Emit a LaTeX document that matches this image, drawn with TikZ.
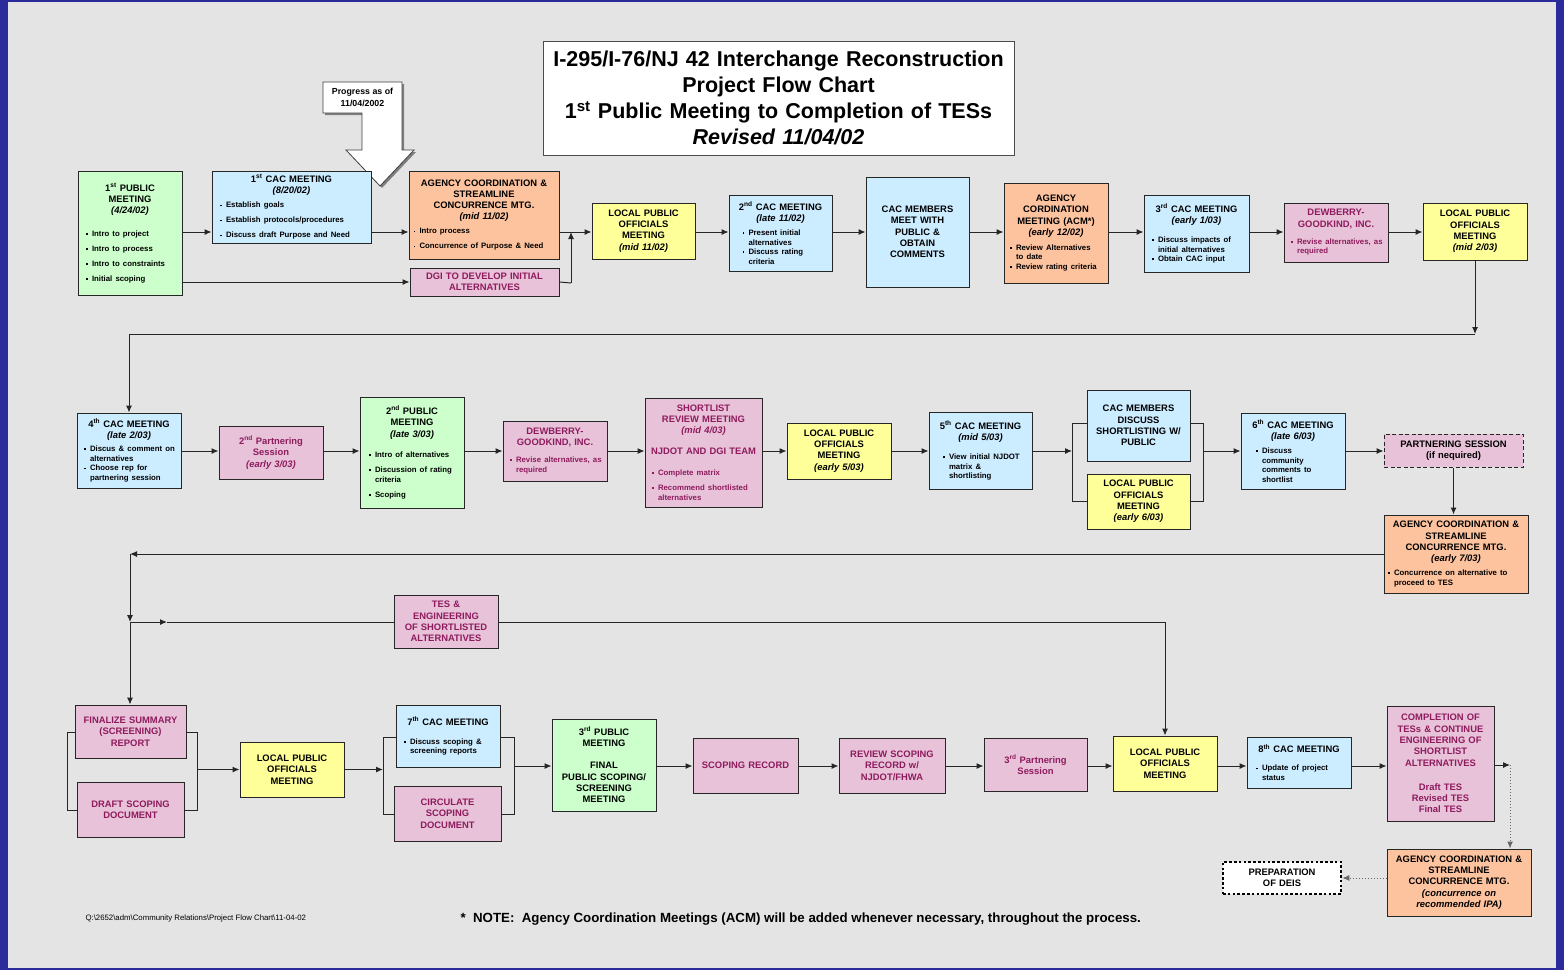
\documentclass[tikz,border=0pt]{standalone}
\usepackage{fontspec}
\setmainfont{Liberation Sans}
\usetikzlibrary{arrows.meta,shadows}

\setlength{\parindent}{0pt}

\definecolor{bgblue}{HTML}{2B2B9C}
\definecolor{paper}{HTML}{E4E4E4}
\definecolor{fgreen}{HTML}{CCFFCC}
\definecolor{fblue}{HTML}{CCECFF}
\definecolor{forange}{HTML}{FDC39F}
\definecolor{fyellow}{HTML}{FFFF99}
\definecolor{fpink}{HTML}{E8C2D8}
\definecolor{plum}{HTML}{8E1B5E}

\newlength\itmind
\newcommand\hd{\fontsize{9.4}{11.3}\selectfont\bfseries}
\newcommand\sm{\fontsize{7.8}{9.6}\selectfont\bfseries}
\newcommand\bul{\makebox[6pt][l]{\raisebox{1.6pt}{\rule{1.7pt}{1.7pt}}}}
\newcommand\itm[2][0pt]{\par\vspace{#1}{\sm\raggedright\leftskip=\itmind
  \rightskip=-8pt plus 1fil\hangindent=6pt\hangafter=1\noindent\bul#2\par}}
\newcommand\sups[1]{\textsuperscript{#1}}

\tikzset{
  sz/.style 2 args={minimum width=#1pt, minimum height=#2pt,
    /utils/exec={\pgfmathsetlengthmacro\boxtw{#1pt-11pt}}, text width=\boxtw},
  plain/.style={draw=black!85, line width=1pt, align=center, inner xsep=4pt,
    inner ysep=2pt, font=\hd},
  box/.style={plain, drop shadow={shadow xshift=1.3pt, shadow yshift=-1.3pt,
    fill=black!45, opacity=0.8}},
  greenbox/.style={box, fill=fgreen},
  bluebox/.style={box, fill=fblue},
  orangebox/.style={box, fill=forange},
  yellowbox/.style={box, fill=fyellow},
  pinkbox/.style={box, fill=fpink, text=plum},
  dashbox/.style={plain, fill=fpink, dash pattern=on 4pt off 2.5pt},
  dotbox/.style={plain, fill=white, draw=black, line width=2.6pt,
    dash pattern=on 2.6pt off 2.2pt},
  titlebox/.style={box, fill=white, draw=black!70},
  callout/.style={fill=white, draw=black!75, line width=0.8pt,
    drop shadow={shadow xshift=2pt, shadow yshift=-2pt, fill=black!55, opacity=0.9}},
  arr/.style={draw=black!85, line width=1pt, -{Latex[length=7pt,width=6pt]}},
  link/.style={draw=black!85, line width=1pt},
  dots/.style={draw=black!60, line width=1pt, dotted, -{Latex[length=7pt,width=6pt]}},
}

\begin{document}
\begin{tikzpicture}[x=1pt,y=-1pt]
    \fill[bgblue] (0,0) rectangle (1564,970);
    \fill[paper] (8,2) rectangle (1556,968);
    \useasboundingbox (0,0) rectangle (1564,970);

    \coordinate (R1) at (0,232);
    \coordinate (R2) at (0,451);
    \coordinate (R3) at (0,766);
    \coordinate (J1) at (1475,334);
    \coordinate (J2) at (130,554);
    \coordinate (J3) at (130,622);
    \coordinate (J4) at (167,622);
    \coordinate (J5) at (1510,765);
    \coordinate (J6) at (571,283);

    \coordinate (B1) at (1072,423);
    \coordinate (B2) at (1072,501);
    \coordinate (B3) at (1203,423);
    \coordinate (B4) at (1203,501);
    \coordinate (B5) at (67,732);
    \coordinate (B6) at (67,810);
    \coordinate (B7) at (197,732);
    \coordinate (B8) at (197,810);
    \coordinate (B9) at (383,737);
    \coordinate (B10) at (383,814);
    \coordinate (B11) at (514,737);
    \coordinate (B12) at (514,814);

    \node[titlebox, sz={471}{114}, font=\fontsize{21.5}{26}\selectfont\bfseries] (T0) at (778.5,98)
      {I-295/I-76/NJ 42 Interchange Reconstruction\\Project Flow Chart\\1\sups{st} Public Meeting to Completion of TESs\\\textit{Revised 11/04/02}};

    \filldraw[callout] (323,82) -- (402,82) -- (402,150) -- (414,150) -- (380,186) -- (346,150)
      -- (362,150) -- (362,113) -- (323,113) -- cycle;
    \node[font=\fontsize{8.8}{11.5}\selectfont\bfseries, align=center] (G1) at (362.5,97.5) {Progress as of\\11/04/2002};

    \node[greenbox, sz={104}{124}] (P1) at (130,233) {1\sups{st} PUBLIC\\MEETING\\\textit{(4/24/02)}\itmind=2.5pt
      \itm[13pt]{Intro to project}\itm[5.4pt]{Intro to process}\itm[5.4pt]{Intro to constraints}\itm[5.4pt]{Initial scoping}};
    \node[bluebox, sz={159}{72}] (C1) at (291.5,207) {1\sups{st} CAC MEETING\\\textit{(8/20/02)}\itmind=2.5pt
      \itm[4.4pt]{Establish goals}\itm[5.4pt]{Establish protocols/procedures}\itm[5.4pt]{Discuss draft Purpose and Need}};
    \node[orangebox, sz={150}{88}] (A1) at (484,215) {AGENCY COORDINATION \&\\STREAMLINE\\CONCURRENCE MTG.\\\textit{(mid 11/02)}\itmind=-1pt
      \itm[4.4pt]{Intro process}\itm[5.4pt]{Concurrence of Purpose \& Need}};
    \node[pinkbox, sz={149}{28}] (D1) at (484.5,282) {DGI TO DEVELOP INITIAL\\ALTERNATIVES};
    \node[yellowbox, sz={103}{56}] (L1) at (643.5,231) {LOCAL PUBLIC\\OFFICIALS\\MEETING\\\textit{(mid 11/02)}};
    \node[bluebox, sz={103}{76}] (C2) at (780.5,233) {2\sups{nd} CAC MEETING\\\textit{(late 11/02)}\itmind=8pt
      \itm[4.4pt]{Present initial\newline alternatives}\itm{Discuss rating\newline criteria}};
    \node[bluebox, sz={103}{110}] (CM1) at (917.5,232) {CAC MEMBERS\\MEET WITH\\PUBLIC \&\\OBTAIN\\COMMENTS};
    \node[orangebox, sz={104}{100}] (A2) at (1056,233) {AGENCY\\CORDINATION\\MEETING (ACM*)\\\textit{(early 12/02)}\itmind=0.5pt
      \itm[5.4pt]{Review Alternatives\newline to date}\itm{Review rating criteria}};
    \node[bluebox, sz={105}{77}] (C3) at (1196.5,233.5) {3\sups{rd} CAC MEETING\\\textit{(early 1/03)}\itmind=2.5pt
      \itm[9.4pt]{Discuss impacts of\newline initial alternatives}\itm{Obtain CAC input}};
    \node[pinkbox, sz={104}{59}] (D2) at (1336,232.5) {DEWBERRY-\\GOODKIND, INC.\itmind=1.5pt
      \itm[7.4pt]{Revise alternatives, as\newline required}};
    \node[yellowbox, sz={104}{57}] (L2) at (1475,231.5) {LOCAL PUBLIC\\OFFICIALS\\MEETING\\\textit{(mid 2/03)}};

    \node[bluebox, sz={104}{75}] (C4) at (129,450.5) {4\sups{th} CAC MEETING\\\textit{(late 2/03)}\itmind=1.5pt
      \itm[3.4pt]{Discus \& comment on\newline alternatives}\itm{Choose rep for\newline partnering session}};
    \node[pinkbox, sz={104}{53}] (S2) at (271,452.5) {2\sups{nd} Partnering\\Session\\\textit{(early 3/03)}};
    \node[greenbox, sz={104}{111}] (P2) at (412,452.5) {2\sups{nd} PUBLIC\\MEETING\\\textit{(late 3/03)}\itmind=3.5pt
      \itm[11pt]{Intro of alternatives}\itm[5.4pt]{Discussion of rating\newline criteria}\itm[5.4pt]{Scoping}};
    \node[pinkbox, sz={104}{60}] (D3) at (555,451) {DEWBERRY-\\GOODKIND, INC.\itmind=1.5pt
      \itm[7.4pt]{Revise alternatives, as\newline required}};
    \node[pinkbox, sz={117}{109}] (S1) at (703.5,452.5) {SHORTLIST\\REVIEW MEETING\\\textit{(mid 4/03)}\par\vspace{9.7pt}
      NJDOT AND DGI TEAM\itmind=1.5pt\itm[11pt]{Complete matrix}\itm[5.4pt]{Recommend shortlisted\newline alternatives}};
    \node[yellowbox, sz={104}{56}] (L3) at (839,451) {LOCAL PUBLIC\\OFFICIALS\\MEETING\\\textit{(early 5/03)}};
    \node[bluebox, sz={103}{77}] (C5) at (980.5,450.5) {5\sups{th} CAC MEETING\\\textit{(mid 5/03)}\itmind=8.5pt
      \itm[9.4pt]{View initial NJDOT\newline matrix \&\newline shortlisting}};
    \node[bluebox, sz={103}{71}] (CM2) at (1138.5,425.5) {CAC MEMBERS\\DISCUSS\\SHORTLISTING W/\\PUBLIC};
    \node[yellowbox, sz={103}{55}] (L4) at (1138.5,501.5) {LOCAL PUBLIC\\OFFICIALS\\MEETING\\\textit{(early 6/03)}};
    \node[bluebox, sz={104}{76}] (C6) at (1293,451) {6\sups{th} CAC MEETING\\\textit{(late 6/03)}\itmind=9.5pt
      \itm[4.4pt]{Discuss\newline community\newline comments to\newline shortlist}};
    \node[dashbox, sz={139}{33}] (S3) at (1453.5,450.5) {PARTNERING SESSION\\(if nequired)};
    \node[orangebox, sz={144}{78}] (A3) at (1456,554) {AGENCY COORDINATION \&\\STREAMLINE\\CONCURRENCE MTG.\\\textit{(early 7/03)}\itmind=-1.5pt
      \itm[4.4pt]{Concurrence on alternative to\newline proceed to TES}};

    \node[pinkbox, sz={104}{53}] (T1) at (446,621.5) {TES \&\\ENGINEERING\\OF SHORTLISTED\\ALTERNATIVES};
    \node[pinkbox, sz={111}{53}] (F1) at (130.5,731.5) {FINALIZE SUMMARY\\(SCREENING)\\REPORT};
    \node[pinkbox, sz={107}{55}] (F2) at (130.5,809.5) {DRAFT SCOPING\\DOCUMENT};
    \node[yellowbox, sz={104}{55}] (L5) at (292,769.5) {LOCAL PUBLIC\\OFFICIALS\\MEETING};
    \node[bluebox, sz={104}{62}] (C7) at (448,736) {7\sups{th} CAC MEETING\itmind=2.5pt
      \itm[9.4pt]{Discuss scoping \&\newline screening reports}};
    \node[pinkbox, sz={107}{55}] (F3) at (447.5,813.5) {CIRCULATE\\SCOPING\\DOCUMENT};
    \node[greenbox, sz={104}{92}] (P3) at (604,765) {3\sups{rd} PUBLIC\\MEETING\par\vspace{10.7pt}FINAL\\PUBLIC SCOPING/\\SCREENING\\MEETING};
    \node[pinkbox, sz={105}{55}] (F4) at (745.5,765.5) {SCOPING RECORD};
    \node[pinkbox, sz={106}{55}] (F5) at (892,765.5) {REVIEW SCOPING\\RECORD w/\\NJDOT/FHWA};
    \node[pinkbox, sz={103}{53}] (S4) at (1035.5,764.5) {3\sups{rd} Partnering\\Session};
    \node[yellowbox, sz={104}{55}] (L6) at (1165,763.5) {LOCAL PUBLIC\\OFFICIALS\\MEETING};
    \node[bluebox, sz={104}{51}] (C8) at (1299,762.5) {8\sups{th} CAC MEETING\itmind=3.5pt
      \itm[8.4pt]{Update of project\newline status}};
    \node[pinkbox, sz={107}{115}] (T2) at (1440.5,763.5) {COMPLETION OF\\TESs \& CONTINUE\\ENGINEERING OF\\SHORTLIST\\ALTERNATIVES\par\vspace{12.7pt}Draft TES\\Revised TES\\Final TES};
    \node[orangebox, sz={144}{67}] (A4) at (1459,882.5) {AGENCY COORDINATION \&\\STREAMLINE\\CONCURRENCE MTG.\\\textit{(concurrence on}\\\textit{recommended IPA)}};
    \node[dotbox, sz={118}{32}] (E1) at (1282,878) {PREPARATION\\OF DEIS};

    \node[anchor=west, font=\fontsize{7.8}{8}\selectfont] (N1) at (82,918)
      {Q:\textbackslash 2652\textbackslash adm\textbackslash Community Relations\textbackslash Project Flow Chart\textbackslash 11-04-02};
    \node[anchor=west, font=\fontsize{13.3}{15}\selectfont\bfseries] (N2) at (457,919)
      {*\ \ NOTE:\ \ Agency Coordination Meetings (ACM) will be added whenever necessary, throughout the process.};

    \draw[arr] (P1.east |- R1) -- (C1.west |- R1);
    \draw[arr] (C1.east |- R1) -- (A1.west |- R1);
    \draw[arr] (A1.east |- R1) -- (L1.west |- R1);
    \draw[arr] (L1.east |- R1) -- (C2.west |- R1);
    \draw[arr] (C2.east |- R1) -- (CM1.west |- R1);
    \draw[arr] (CM1.east |- R1) -- (A2.west |- R1);
    \draw[arr] (A2.east |- R1) -- (C3.west |- R1);
    \draw[arr] (C3.east |- R1) -- (D2.west |- R1);
    \draw[arr] (D2.east |- R1) -- (L2.west |- R1);
    \draw[arr] (P1.east |- D1.west) -- (D1.west);
    \draw[link] (D1.east) -- (J6);
    \draw[arr] (J6) -- (J6 |- R1);
    \draw[arr] (L2.south) -- (J1);
    \draw[arr] (J1) -| (C4.north);

    \draw[arr] (C4.east |- R2) -- (S2.west |- R2);
    \draw[arr] (S2.east |- R2) -- (P2.west |- R2);
    \draw[arr] (P2.east |- R2) -- (D3.west |- R2);
    \draw[arr] (D3.east |- R2) -- (S1.west |- R2);
    \draw[arr] (S1.east |- R2) -- (L3.west |- R2);
    \draw[arr] (L3.east |- R2) -- (C5.west |- R2);
    \draw[arr] (C5.east |- R2) -- (B1 |- R2);
    \draw[link] (CM2.west |- B1) -- (B1) -- (B2) -- (L4.west |- B2);
    \draw[link] (CM2.east |- B3) -- (B3) -- (B4) -- (L4.east |- B4);
    \draw[arr] (B3 |- R2) -- (C6.west |- R2);
    \draw[arr] (C6.east |- R2) -- (S3.west |- R2);
    \draw[arr] (S3.south) -- (S3.south |- A3.north);
    \draw[arr] (A3.west) -- (J2);
    \draw[arr] (J2) -- (J3);
    \draw[arr] (J3) -- (J3 |- F1.north);
    \draw[arr] (J3) -- (J4);
    \draw[link] (J4) -- (T1.west |- J3);
    \draw[arr] (T1.east |- J3) -| (L6.north);

    \draw[link] (F1.west |- B5) -- (B5) -- (B6) -- (F2.west |- B6);
    \draw[link] (F1.east |- B7) -- (B7) -- (B8) -- (F2.east |- B8);
    \draw[arr] (B7 |- L5.west) -- (L5.west);
    \draw[arr] (L5.east) -- (B9 |- L5.east);
    \draw[link] (C7.west |- B9) -- (B9) -- (B10) -- (F3.west |- B10);
    \draw[link] (C7.east |- B11) -- (B11) -- (B12) -- (F3.east |- B12);
    \draw[arr] (B11 |- R3) -- (P3.west |- R3);
    \draw[arr] (P3.east |- R3) -- (F4.west |- R3);
    \draw[arr] (F4.east |- R3) -- (F5.west |- R3);
    \draw[arr] (F5.east |- R3) -- (S4.west |- R3);
    \draw[arr] (S4.east |- R3) -- (L6.west |- R3);
    \draw[arr] (L6.east |- R3) -- (C8.west |- R3);
    \draw[arr] (C8.east |- R3) -- (T2.west |- R3);
    \draw[arr] (T2.east |- J5) -- (J5);
    \draw[dots] (J5) -- (J5 |- A4.north);
    \draw[dots] (A4.west |- E1.east) -- (E1.east);
\end{tikzpicture}
\end{document}
